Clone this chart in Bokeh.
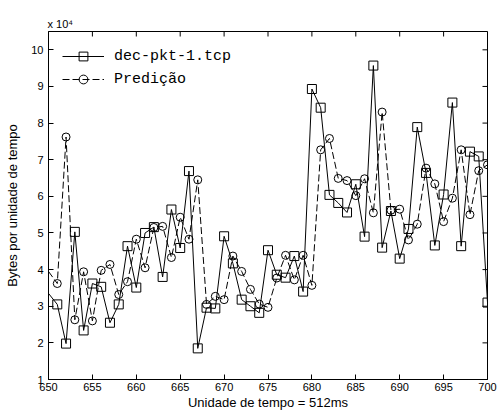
import math
from bokeh.plotting import figure
from bokeh.models import (Range1d, FixedTicker, Legend, LegendItem,
                          ColumnDataSource)
from bokeh.embed import file_html
from bokeh.resources import INLINE

# time index (unit = 512 ms)
tempo = [650, 651, 652, 653, 654, 655, 656, 657, 658, 659,
         660, 661, 662, 663, 664, 665, 666, 667, 668, 669,
         670, 671, 672, 673, 674, 675, 676, 677, 678, 679,
         680, 681, 682, 683, 684, 685, 686, 687, 688, 689,
         690, 691, 692, 693, 694, 695, 696, 697, 698, 699, 700]

# bytes per time unit, in units of 10^4
dec_pkt = [3.35, 3.05, 1.98, 5.03, 2.34, 3.62, 3.53, 2.55, 3.05, 4.64,
           3.51, 5.00, 5.16, 3.80, 5.64, 4.59, 6.69, 1.85, 2.96, 2.94,
           4.91, 4.17, 3.18, 3.00, 2.82, 4.53, 3.86, 3.78, 4.37, 3.40,
           8.93, 8.42, 6.04, 5.82, 5.56, 6.33, 4.90, 9.57, 4.60, 5.60,
           4.30, 5.11, 7.89, 6.64, 4.66, 6.05, 8.56, 4.64, 7.22, 7.09, 3.10]

predicao = [3.95, 3.62, 7.62, 2.63, 3.94, 2.60, 3.98, 4.14, 3.32, 3.67,
            4.83, 4.05, 5.15, 5.18, 4.33, 5.43, 4.83, 6.45, 3.05, 3.27,
            3.18, 4.37, 3.95, 3.46, 3.06, 2.97, 3.77, 4.39, 3.72, 4.39,
            3.57, 7.27, 7.58, 6.49, 6.43, 6.02, 6.48, 5.55, 8.30, 5.62,
            5.65, 4.81, 5.24, 6.77, 6.34, 5.31, 5.95, 7.27, 5.50, 6.70, 6.86]

x_ticks = [650, 655, 660, 665, 670, 675, 680, 685, 690, 695, 700]
y_ticks = [1, 2, 3, 4, 5, 6, 7, 8, 9, 10]
x_lim = (650, 700)
y_lim = (1, 10.5)

label_serie1 = "dec-pkt-1.tcp"
label_serie2 = "Predição"
scale_text = "x 10⁴"

src = ColumnDataSource(dict(t=tempo, real=dec_pkt, pred=predicao))
src_m = ColumnDataSource(dict(t=tempo[1:], real=dec_pkt[1:], pred=predicao[1:]))

p = figure(width=499, height=414, output_backend="svg", toolbar_location=None,
           x_range=Range1d(*x_lim), y_range=Range1d(*y_lim),
           min_border_left=48, min_border_right=12, min_border_top=31,
           min_border_bottom=35)
p.background_fill_color = "white"
p.border_fill_color = "white"
p.outline_line_color = "black"
p.outline_line_width = 1
p.xgrid.visible = False
p.ygrid.visible = False

tick_font = "Liberation Sans"

p.title.text = scale_text
p.title.align = "left"
p.title.text_font = tick_font
p.title.text_font_size = "11px"
p.title.text_font_style = "normal"
p.title.text_color = "black"
p.title.standoff = 4
p.title.offset = -1

for ax in (p.xaxis[0], p.yaxis[0]):
    ax.major_tick_in = 5
    ax.major_tick_out = 0
    ax.minor_tick_line_color = None
    ax.axis_line_color = "black"
    ax.major_tick_line_color = "black"
    ax.major_label_text_font = tick_font
    ax.major_label_text_font_size = "11px"
    ax.major_label_text_color = "black"
    ax.axis_label_text_font = tick_font
    ax.axis_label_text_font_size = "13px"
    ax.axis_label_text_font_style = "normal"
    ax.axis_label_text_color = "black"

p.xaxis.ticker = FixedTicker(ticks=x_ticks)
p.yaxis.ticker = FixedTicker(ticks=y_ticks)
p.xaxis.axis_label = "Unidade de tempo = 512ms"
p.yaxis.axis_label = "Bytes por unidade de tempo"
p.xaxis.major_label_standoff = 3
p.xaxis.axis_label_standoff = 1
p.yaxis.major_label_standoff = 5
p.yaxis.axis_label_standoff = 8

# box ticks on the top and right edges (half of each dash is clipped by the frame)
p.scatter(x=x_ticks, y=[y_lim[1]] * len(x_ticks), marker="dash", size=10,
          angle=math.pi / 2, line_color="black", line_width=1)
p.scatter(x=[x_lim[1]] * len(y_ticks), y=y_ticks, marker="dash", size=10,
          line_color="black", line_width=1)

l1 = p.line("t", "real", source=src, line_color="black", line_width=1)
s1 = p.scatter("t", "real", source=src_m, marker="square", size=9,
               line_color="black", fill_color=None, line_width=1)
l2 = p.line("t", "pred", source=src, line_color="black", line_width=1,
            line_dash="7 3")
s2 = p.scatter("t", "pred", source=src_m, marker="circle", size=8,
               line_color="black", fill_color=None, line_width=1)

legend = Legend(items=[LegendItem(label=label_serie1, renderers=[l1, s1]),
                       LegendItem(label=label_serie2, renderers=[l2, s2])],
                location="top_left", margin=5, padding=9, spacing=1,
                glyph_width=42, glyph_height=22, label_height=22,
                label_standoff=10, border_line_alpha=0,
                background_fill_alpha=0,
                label_text_font="Liberation Mono", label_text_font_size="15px",
                label_text_color="black")
p.add_layout(legend)

open("out.html", "w").write(file_html(p, INLINE))
